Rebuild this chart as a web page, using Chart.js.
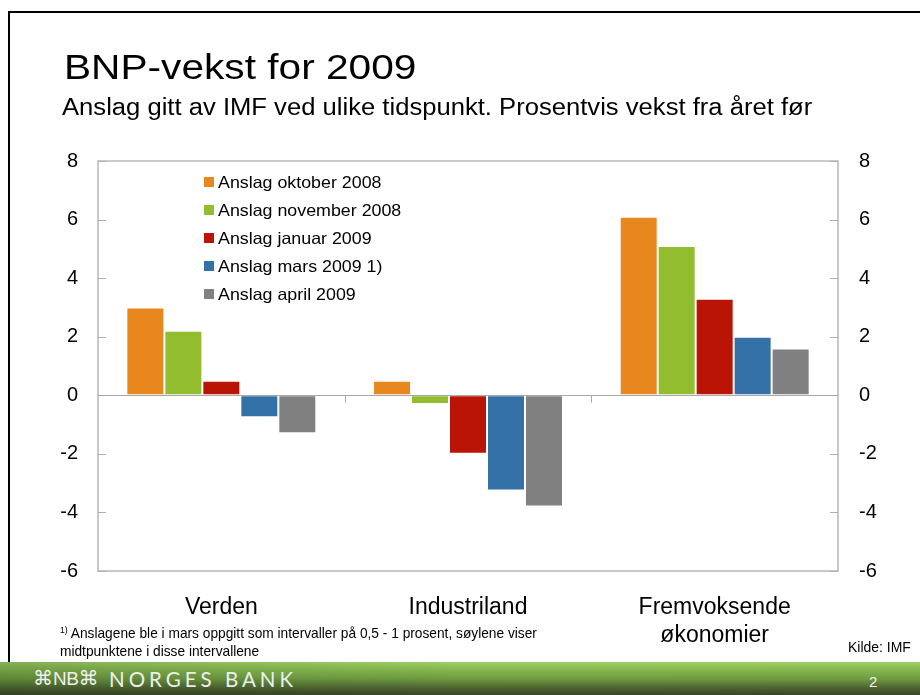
<!DOCTYPE html>
<html>
<head>
<meta charset="utf-8">
<script src="https://cdn.jsdelivr.net/npm/chart.js@4.4.1/dist/chart.umd.min.js"></script>
<style>
  html, body { margin: 0; padding: 0; background: #fff; }
  #wrap { position: relative; width: 920px; height: 695px; overflow: hidden; background: #fff; font-family: "Liberation Sans", Arial, sans-serif; }
  #c { position: absolute; left: 0; top: 0; }
  .frameTop { position: absolute; left: 9px; top: 11px; width: 911px; height: 2px; background: #000; }
  .frameLeft { position: absolute; left: 8px; top: 11px; width: 2px; height: 652px; background: #000; }
  #title { position: absolute; left: 64px; top: 47px; font-size: 35.5px; color: #000; white-space: nowrap; transform: scaleX(1.145); transform-origin: left top; }
  #subtitle { position: absolute; left: 62px; top: 94px; font-size: 23.5px; color: #000; white-space: nowrap; transform: scaleX(1.09); transform-origin: left top; }
  #note { position: absolute; left: 60px; top: 621px; font-size: 15px; line-height: 18px; color: #000; white-space: nowrap; transform: scaleX(0.915); transform-origin: left top; }
  #note sup { font-size: 9.5px; vertical-align: 5px; }
  #source { position: absolute; left: 848px; top: 638px; font-size: 15px; color: #000; white-space: nowrap; transform: scaleX(0.93); transform-origin: left top; }
  #footer { position: absolute; left: 0; top: 662px; width: 920px; height: 33px;
    background: linear-gradient(to bottom, #a8d66c 0%, #8ec254 20%, #74a244 50%, #4d6532 80%, #38462a 100%); }
  #footer .shade { position: absolute; left: 0; top: 0; width: 100%; height: 100%;
    background: linear-gradient(to right, rgba(20,40,10,0.22) 0%, rgba(20,40,10,0.05) 50%, rgba(0,0,0,0.04) 100%); }
  #brand { position: absolute; left: 33px; top: 4px; color: #eeeeee; white-space: nowrap; }
  #brand .orn { font-family: "DejaVu Sans", sans-serif; font-size: 20px; }
  #brand .nb { font-family: "Liberation Sans", sans-serif; font-size: 19px; letter-spacing: -0.5px; }
  #brand .name { font-family: "Lato", "Open Sans", sans-serif; font-size: 20.5px; letter-spacing: 4px; position: absolute; left: 76px; top: 1px; }
  #page { position: absolute; left: 869px; top: 11px; font-size: 15px; color: #f2f2f2; }
</style>
</head>
<body>
<div id="wrap">
  <canvas id="c" width="920" height="695"></canvas>
  <div class="frameTop"></div>
  <div class="frameLeft"></div>
  <div id="title">BNP-vekst for 2009</div>
  <div id="subtitle">Anslag gitt av IMF ved ulike tidspunkt. Prosentvis vekst fra året før</div>
  <div id="note"><sup>1)</sup> Anslagene ble i mars oppgitt som intervaller på 0,5 - 1 prosent, søylene viser<br>midtpunktene i disse intervallene</div>
  <div id="source">Kilde: IMF</div>
  <div id="footer"><div class="shade"></div>
    <div id="brand"><span class="orn">⌘</span><span class="nb">NB</span><span class="orn">⌘</span><span class="name">NORGES BANK</span></div>
    <div id="page">2</div>
  </div>
</div>
<script>
const categories = ["Verden", "Industriland", ["Fremvoksende", "økonomier"]];
const seriesNames = ["Anslag oktober 2008", "Anslag november 2008", "Anslag januar 2009", "Anslag mars 2009 1)", "Anslag april 2009"];
const oktober2008 = [3.0, 0.5, 6.1];
const november2008 = [2.2, -0.3, 5.1];
const januar2009 = [0.5, -2.0, 3.3];
const mars2009 = [-0.75, -3.25, 2.0];
const april2009 = [-1.3, -3.8, 1.6];
const yTicks = [-6, -4, -2, 0, 2, 4, 6, 8];
const seriesColors = ["#E8871E", "#92BD2E", "#B91405", "#3371A6", "#808080"];

const seriesValues = [oktober2008, november2008, januar2009, mars2009, april2009];

const frame = {
  id: 'frame',
  beforeDatasetsDraw(chart) {
    const { ctx, chartArea: a } = chart;
    ctx.save();
    ctx.strokeStyle = '#b8b8b8';
    ctx.lineWidth = 1.5;
    ctx.strokeRect(a.left, a.top, a.right - a.left, a.bottom - a.top);
    const y = chart.scales.y;
    ctx.lineWidth = 1;
    ctx.strokeStyle = '#b0b0b0';
    yTicks.forEach(v => {
      const py = Math.round(y.getPixelForValue(v)) + 0.5;
      ctx.beginPath(); ctx.moveTo(a.left, py); ctx.lineTo(a.left + 8, py); ctx.stroke();
      ctx.beginPath(); ctx.moveTo(a.right - 8, py); ctx.lineTo(a.right, py); ctx.stroke();
    });
    ctx.restore();
  },
  afterDatasetsDraw(chart) {
    const { ctx, chartArea: a } = chart;
    const y = chart.scales.y, x = chart.scales.x;
    const zy = Math.round(y.getPixelForValue(0)) + 0.5;
    ctx.save();
    ctx.strokeStyle = '#a8a8a8';
    ctx.lineWidth = 1;
    ctx.beginPath(); ctx.moveTo(a.left, zy); ctx.lineTo(a.right, zy); ctx.stroke();
    for (let i = 1; i < categories.length; i++) {
      const px = Math.round((x.getPixelForValue(i - 1) + x.getPixelForValue(i)) / 2) + 0.5;
      ctx.beginPath(); ctx.moveTo(px, zy); ctx.lineTo(px, zy + 7); ctx.stroke();
    }
    // legend
    ctx.textBaseline = 'middle';
    chart.data.datasets.forEach((ds, i) => {
      const cy = 182 + i * 28;
      ctx.fillStyle = ds.backgroundColor;
      ctx.fillRect(204, cy - 5, 10, 10);
      ctx.save();
      ctx.translate(218, cy + 1);
      ctx.scale(1.08, 1);
      ctx.font = '16.5px "Liberation Sans", Arial, sans-serif';
      ctx.fillStyle = '#000';
      ctx.fillText(ds.label, 0, 0);
      ctx.restore();
    });
    ctx.restore();
  }
};

const tickFont = { family: '"Liberation Sans", Arial, sans-serif', size: 20 };

new Chart(document.getElementById('c'), {
  type: 'bar',
  data: {
    labels: categories,
    datasets: seriesNames.map((n, i) => ({
      label: n,
      data: seriesValues[i],
      backgroundColor: seriesColors[i],
      borderColor: 'rgba(255,255,255,0.35)',
      borderWidth: 1,
      borderSkipped: false,
      categoryPercentage: 0.77,
      barPercentage: 1.0
    }))
  },
  options: {
    responsive: false,
    animation: false,
    devicePixelRatio: 1,
    layout: { padding: { top: 161, left: 0, right: 0, bottom: 0 } },
    plugins: { legend: { display: false }, tooltip: { enabled: false } },
    scales: {
      x: {
        grid: { display: false, drawTicks: false },
        border: { display: false },
        ticks: { color: '#000', font: { family: '"Liberation Sans", Arial, sans-serif', size: 23, lineHeight: 1.22 }, padding: 23, maxRotation: 0, autoSkip: false },
        afterFit(s) { s.height = 124; }
      },
      y: {
        position: 'left',
        min: -6, max: 8,
        afterBuildTicks(s) { s.ticks = yTicks.map(v => ({ value: v })); },
        grid: { display: false, drawTicks: false },
        border: { display: false },
        ticks: { color: '#000', font: tickFont, padding: 20 },
        afterFit(s) { s.width = 98; }
      },
      y2: {
        position: 'right',
        min: -6, max: 8,
        afterBuildTicks(s) { s.ticks = yTicks.map(v => ({ value: v })); },
        grid: { display: false, drawTicks: false },
        border: { display: false },
        ticks: { color: '#000', font: tickFont, padding: 21 },
        afterFit(s) { s.width = 82; }
      }
    }
  },
  plugins: [frame]
});
</script>
</body>
</html>
